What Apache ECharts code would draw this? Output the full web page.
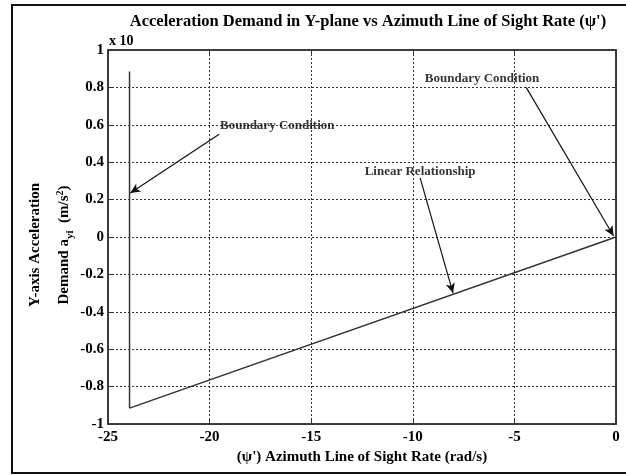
<!DOCTYPE html>
<html>
<head>
<meta charset="utf-8">
<script src="https://cdn.jsdelivr.net/npm/echarts@6/dist/echarts.min.js"></script>
<style>
html,body{margin:0;padding:0;background:#fff;}
#c{width:626px;height:475px;}
</style>
</head>
<body>
<div id="c"></div>
<script>
// Data (x: azimuth LOS rate rad/s, y: acceleration demand, x 10 scale)
const curveX = [-23.94, -23.94, 0];
const curveY = [0.885, -0.915, 0];

// Annotation texts and arrows (data coordinates)
const annTexts = ['Boundary Condition', 'Linear Relationship', 'Boundary Condition'];
const annTextX = [-16.67, -9.64, -6.59];
const annTextY = [0.594, 0.348, 0.845];
const arrowFromX = [-19.53, -9.64, -4.42];
const arrowFromY = [0.55, 0.316, 0.80];
const arrowToX = [-23.9, -8.02, -0.12];
const arrowToY = [0.235, -0.30, 0.005];

const xTicks = {min: -25, max: 0, interval: 5};
const yTicks = {min: -1, max: 1, interval: 0.2};

const FONT = '"Liberation Serif", "DejaVu Serif", serif';
const INK = '#333';

const chart = echarts.init(document.getElementById('c'), null, {renderer: 'canvas'});

const lineData = curveX.map((x, i) => [x, curveY[i]]);
const annData = annTexts.map((t, i) => ({name: t, value: [annTextX[i], annTextY[i]]}));
const arrowData = arrowFromX.map((x, i) => [
  {coord: [x, arrowFromY[i]]},
  {coord: [arrowToX[i], arrowToY[i]]}
]);

const axisLabelStyle = {color: '#000', fontFamily: FONT, fontWeight: 'bold', fontSize: 15};

chart.setOption({
  backgroundColor: '#fff',
  animation: false,
  title: {
    text: "Acceleration Demand in Y-plane vs Azimuth Line of Sight Rate (\u03C8')",
    left: 363, top: 8, textAlign: 'center',
    textStyle: {fontFamily: FONT, fontWeight: 'bold', fontSize: 16.5, color: '#000'}
  },
  grid: {left: 108, right: 10, top: 50, bottom: 51, show: true, borderColor: INK, borderWidth: 1.5},
  xAxis: [{
    type: 'value', min: xTicks.min, max: xTicks.max, interval: xTicks.interval,
    position: 'bottom',
    name: "(\u03C8') Azimuth Line of Sight Rate (rad/s)",
    nameLocation: 'middle', nameGap: 23,
    nameTextStyle: {fontFamily: FONT, fontWeight: 'bold', fontSize: 15, color: '#000'},
    axisLine: {show: true, onZero: false, lineStyle: {color: INK, width: 1.5}},
    axisTick: {show: true, inside: true, length: 4, lineStyle: {color: INK}},
    axisLabel: Object.assign({margin: 6}, axisLabelStyle),
    splitLine: {show: true, lineStyle: {color: INK, type: [2, 2], width: 1}}
  }, {
    type: 'value', min: xTicks.min, max: xTicks.max, interval: xTicks.interval,
    position: 'top',
    axisLine: {show: true, onZero: false, lineStyle: {color: INK, width: 1.5}},
    axisTick: {show: true, inside: true, length: 4, lineStyle: {color: INK}},
    axisLabel: {show: false}, splitLine: {show: false}
  }],
  yAxis: [{
    type: 'value', min: yTicks.min, max: yTicks.max, interval: yTicks.interval,
    position: 'left',
    axisLine: {show: true, onZero: false, lineStyle: {color: INK, width: 1.5}},
    axisTick: {show: true, inside: true, length: 4, lineStyle: {color: INK}},
    axisLabel: Object.assign({margin: 4}, axisLabelStyle),
    splitLine: {show: true, lineStyle: {color: INK, type: [2, 2], width: 1}}
  }, {
    type: 'value', min: yTicks.min, max: yTicks.max, interval: yTicks.interval,
    position: 'right',
    axisLine: {show: true, onZero: false, lineStyle: {color: INK, width: 1.5}},
    axisTick: {show: true, inside: true, length: 4, lineStyle: {color: INK}},
    axisLabel: {show: false}, splitLine: {show: false}
  }],
  graphic: [{
    type: 'rect', silent: true,
    shape: {x: 12, y: 5, width: 700, height: 468},
    style: {fill: 'none', stroke: '#111', lineWidth: 2}
  }, {
    type: 'text', left: 109, top: 34,
    style: {text: 'x 10', fontFamily: FONT, fontWeight: 'bold', fontSize: 14, fill: '#000'}
  }, {
    type: 'text', x: 50, y: 245, rotation: Math.PI / 2, silent: true,
    style: {
      text: '{a|Y-axis Acceleration}\n{a|Demand a}{sub|yi}{a|  (m/s}{sup|2}{a|)}',
      align: 'center', verticalAlign: 'middle',
      fontFamily: FONT, fontWeight: 'bold', fontSize: 15, fill: '#000', lineHeight: 29,
      rich: {
        a: {fontFamily: FONT, fontWeight: 'bold', fontSize: 15, fill: '#000', lineHeight: 29},
        sub: {fontFamily: FONT, fontWeight: 'bold', fontSize: 11, fill: '#000', lineHeight: 29, padding: [12, 0, 0, 0]},
        sup: {fontFamily: FONT, fontWeight: 'bold', fontSize: 10, fill: '#000', lineHeight: 29, padding: [0, 0, 9, 0]}
      }
    }
  }],
  series: [{
    type: 'line', data: lineData, symbol: 'none',
    lineStyle: {color: INK, width: 1.5},
    markLine: {
      silent: true, symbol: ['none', 'arrow'], symbolSize: [7, 10],
      label: {show: false},
      lineStyle: {color: '#111', width: 1.2, type: 'solid'},
      data: arrowData
    }
  }, {
    type: 'scatter', data: annData, symbolSize: 0,
    label: {
      show: true, position: 'inside', formatter: p => p.name,
      fontFamily: FONT, fontWeight: 'bold', fontSize: 13, color: '#000'
    }
  }]
});
</script>
</body>
</html>
